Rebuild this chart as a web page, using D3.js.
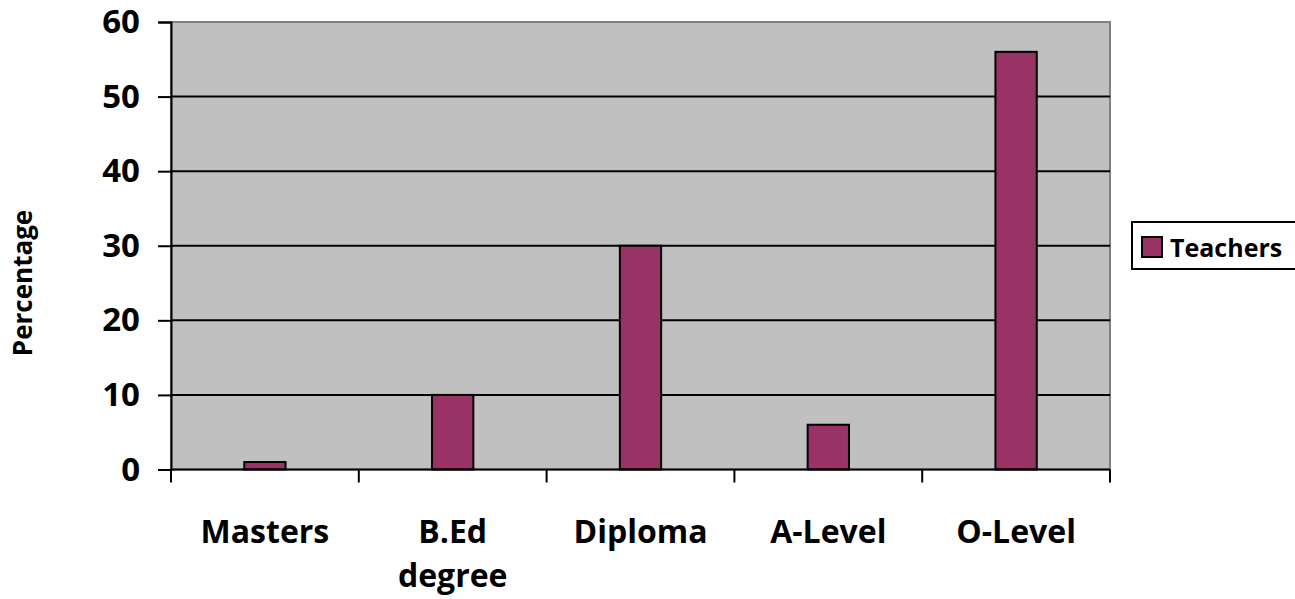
<!DOCTYPE html>
<html>
<head>
<meta charset="utf-8">
<script src="https://cdn.jsdelivr.net/npm/d3@7"></script>
<style>
  body { margin: 0; background: #fff; }
  text { font-family: "Open Sans", "Noto Sans", sans-serif; font-weight: bold; }
</style>
</head>
<body>
<div id="chart"></div>
<script>
const categories = ['Masters', 'B.Ed degree', 'Diploma', 'A-Level', 'O-Level'];
const teachers = [1, 10, 30, 6, 56];
const yTicks = [0, 10, 20, 30, 40, 50, 60];
const seriesName = 'Teachers';

const width = 1295;
const height = 599;
const plot = { left: 171, top: 22, right: 1110, bottom: 469.5 };

const svg = d3.select('#chart')
    .append('svg')
    .attr('width', width)
    .attr('height', height);

const x = d3.scaleBand()
    .domain(categories)
    .range([plot.left, plot.right])
    .paddingInner(0.78)
    .paddingOuter(0.39);

const xOuter = d3.scaleBand()
    .domain(categories)
    .range([plot.left, plot.right]);

const y = d3.scaleLinear()
    .domain([0, 60])
    .range([plot.bottom, plot.top]);

// plot background
svg.append('rect')
    .attr('x', plot.left)
    .attr('y', plot.top)
    .attr('width', plot.right - plot.left)
    .attr('height', plot.bottom - plot.top)
    .attr('fill', '#c0c0c0')
    .attr('stroke', '#808080')
    .attr('stroke-width', 2);

// gridlines
svg.append('g')
    .selectAll('line')
    .data(yTicks.filter(d => d > 0 && d < 60))
    .enter()
    .append('line')
    .attr('x1', plot.left)
    .attr('x2', plot.right)
    .attr('y1', d => y(d))
    .attr('y2', d => y(d))
    .attr('stroke', '#000')
    .attr('stroke-width', 2);

// bars
svg.append('g')
    .selectAll('rect')
    .data(teachers)
    .enter()
    .append('rect')
    .attr('x', (d, i) => x(categories[i]))
    .attr('y', d => y(d))
    .attr('width', x.bandwidth())
    .attr('height', d => plot.bottom - y(d))
    .attr('fill', '#993366')
    .attr('stroke', '#000')
    .attr('stroke-width', 2);

// y axis
const yAxis = svg.append('g')
    .attr('transform', `translate(${plot.left},0)`)
    .call(d3.axisLeft(y).tickValues(yTicks).tickSize(13).tickPadding(18));
yAxis.select('.domain').attr('stroke', '#000').attr('stroke-width', 2);
yAxis.selectAll('.tick line').attr('stroke', '#000').attr('stroke-width', 2);
yAxis.selectAll('.tick text')
    .attr('font-size', 33)
    .attr('fill', '#000')
    .style('font-family', '"Open Sans", sans-serif');

// x axis
const xAxisG = svg.append('g')
    .attr('transform', `translate(0,${plot.bottom})`);
xAxisG.append('line')
    .attr('x1', plot.left)
    .attr('x2', plot.right)
    .attr('stroke', '#000')
    .attr('stroke-width', 2);
xAxisG.selectAll('.tk')
    .data(categories.concat(['end']))
    .enter()
    .append('line')
    .attr('x1', (d, i) => i < categories.length ? xOuter(d) : plot.right)
    .attr('x2', (d, i) => i < categories.length ? xOuter(d) : plot.right)
    .attr('y1', 0)
    .attr('y2', 13)
    .attr('stroke', '#000')
    .attr('stroke-width', 2);

const xLabels = xAxisG.selectAll('text')
    .data(categories)
    .enter()
    .append('text')
    .attr('text-anchor', 'middle')
    .attr('font-size', 32)
    .attr('fill', '#000')
    .attr('transform', d => `translate(${xOuter(d) + xOuter.bandwidth() / 2},0)`);
xLabels.each(function(d) {
    const parts = d === 'B.Ed degree' ? ['B.Ed', 'degree'] : [d];
    d3.select(this).selectAll('tspan')
        .data(parts)
        .enter()
        .append('tspan')
        .attr('x', 0)
        .attr('y', (p, i) => 73 + i * 44)
        .text(p => p);
});

// y title
svg.append('text')
    .attr('transform', 'translate(32,283) rotate(-90)')
    .attr('text-anchor', 'middle')
    .attr('font-size', 26)
    .attr('fill', '#000')
    .text('Percentage');

// legend
const legend = svg.append('g');
legend.append('rect')
    .attr('x', 1132)
    .attr('y', 222)
    .attr('width', 165)
    .attr('height', 47)
    .attr('fill', '#fff')
    .attr('stroke', '#000')
    .attr('stroke-width', 2);
legend.append('rect')
    .attr('x', 1142)
    .attr('y', 237)
    .attr('width', 20)
    .attr('height', 20)
    .attr('fill', '#993366')
    .attr('stroke', '#000')
    .attr('stroke-width', 2);
legend.append('text')
    .attr('x', 1170)
    .attr('y', 257)
    .attr('font-size', 25)
    .attr('fill', '#000')
    .text(seriesName);
</script>
</body>
</html>
